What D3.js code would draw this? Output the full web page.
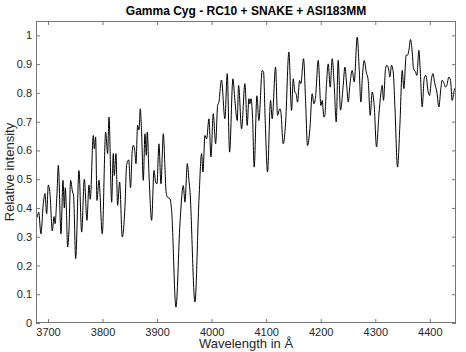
<!DOCTYPE html>
<html>
<head>
<meta charset="utf-8">
<script src="https://cdn.jsdelivr.net/npm/d3@7"></script>
<style>
  body { margin: 0; background: #fff; }
  svg { display: block; font-family: "Liberation Sans", Arial, sans-serif; }
</style>
</head>
<body>
<svg id="chart"></svg>
<script>
// wavelength (Angstrom) and relative intensity
var wavelength = [3678, 3680.4, 3683, 3687, 3691.4, 3694.5, 3697.5, 3700.6, 3703.6, 3707.9,
  3711, 3712.8, 3716.5, 3718.9, 3723.8, 3727.5, 3729.9, 3731.7, 3733.6, 3736,
  3738.4, 3741.5, 3744.6, 3747, 3750.7, 3756.8, 3761.7, 3766.6, 3771.4, 3775.1,
  3777.5, 3783, 3784.9, 3787.3, 3789.8, 3793.4, 3799.5, 3805.7, 3809.3, 3811.8,
  3816.7, 3819.7, 3821.5, 3824.6, 3827.6, 3831.3, 3836.2, 3841, 3844.2, 3848,
  3851.3, 3854.5, 3856.4, 3859, 3861.3, 3864.3, 3866.8, 3869.2, 3871.7, 3874.7,
  3877.8, 3880.2, 3882, 3885.1, 3890, 3894.3, 3897.3, 3899.8, 3903.4, 3907.1,
  3911.4, 3914.4, 3916.3, 3918.7, 3923.6, 3926.6, 3934.6, 3941.9, 3948, 3951.1,
  3955.4, 3958.4, 3960.2, 3969.4, 3976.7, 3981.6, 3984.1, 3987.7, 3990.8, 3995.1,
  3998.7, 4003, 4007.3, 4011, 4013.4, 4015.5, 4018, 4024.3, 4028.6, 4032.9,
  4039, 4042.6, 4047, 4049.4, 4054.9, 4061, 4065.2, 4068.3, 4070.1, 4072,
  4075, 4078, 4083, 4086.6, 4092.7, 4095.2, 4098.2, 4102.5, 4108, 4111,
  4117.2, 4120.8, 4125.1, 4127, 4131.2, 4135.5, 4141.6, 4146.5, 4149.6, 4152.6,
  4155, 4157.5, 4161.2, 4163.6, 4168.5, 4172.2, 4175.8, 4180.1, 4184.4, 4187.4,
  4190.5, 4195.4, 4200.3, 4202.7, 4205.8, 4207.6, 4210.7, 4213.7, 4217.4, 4221,
  4224.7, 4228.4, 4232, 4236.3, 4241.2, 4244.3, 4247.9, 4250.4, 4253.4, 4257.7,
  4261.4, 4266.9, 4270.5, 4273.6, 4276.6, 4279.7, 4283.4, 4287, 4290.7, 4294.4,
  4298, 4302.3, 4306.6, 4310.2, 4312.7, 4315.1, 4318.8, 4321.2, 4324.9, 4326.7,
  4329.8, 4332.9, 4335.9, 4340.8, 4345.1, 4349.4, 4352.4, 4356.7, 4359.1, 4361.6,
  4364.6, 4367.7, 4370.1, 4373.8, 4376.2, 4379.9, 4382.3, 4386, 4389.7, 4392.7,
  4397, 4399.5, 4403.1, 4405.6, 4409.2, 4412.9, 4416.6, 4420.2, 4422.7, 4426.3,
  4428.8, 4431.2, 4434.9, 4437.9, 4441, 4444.7, 4447.7];

var intensity = [0.36, 0.37, 0.385, 0.31, 0.415, 0.45, 0.38, 0.48, 0.45, 0.32,
  0.37, 0.345, 0.45, 0.548, 0.31, 0.496, 0.40, 0.47, 0.40, 0.264,
  0.32, 0.496, 0.46, 0.44, 0.224, 0.53, 0.316, 0.50, 0.357, 0.48,
  0.43, 0.652, 0.606, 0.647, 0.426, 0.496, 0.31, 0.664, 0.589, 0.716,
  0.42, 0.589, 0.513, 0.589, 0.409, 0.49, 0.299, 0.40, 0.55, 0.567,
  0.47, 0.60, 0.618, 0.60, 0.554, 0.687, 0.672, 0.745, 0.658, 0.496,
  0.658, 0.583, 0.664, 0.519, 0.357, 0.53, 0.49, 0.484, 0.623, 0.484,
  0.658, 0.542, 0.461, 0.438, 0.432, 0.391, 0.055, 0.345, 0.478, 0.42,
  0.554, 0.496, 0.461, 0.073, 0.426, 0.589, 0.525, 0.652, 0.64, 0.71,
  0.577, 0.728, 0.623, 0.757, 0.768, 0.81, 0.845, 0.71, 0.867, 0.594,
  0.849, 0.774, 0.704, 0.826, 0.675, 0.832, 0.687, 0.78, 0.762, 0.78,
  0.716, 0.542, 0.79, 0.704, 0.878, 0.872, 0.704, 0.525, 0.774, 0.71,
  0.89, 0.722, 0.745, 0.733, 0.623, 0.693, 0.942, 0.739, 0.849, 0.803,
  0.797, 0.768, 0.843, 0.832, 0.919, 0.774, 0.617, 0.675, 0.797, 0.762,
  0.786, 0.913, 0.756, 0.774, 0.716, 0.722, 0.835, 0.901, 0.82, 0.919,
  0.826, 0.699, 0.913, 0.74, 0.826, 0.89, 0.82, 0.768, 0.826, 0.878,
  0.838, 0.994, 0.884, 0.768, 0.861, 0.913, 0.873, 0.844, 0.722, 0.803,
  0.757, 0.612, 0.722, 0.797, 0.826, 0.774, 0.884, 0.896, 0.878, 0.855,
  0.896, 0.873, 0.757, 0.542, 0.687, 0.878, 0.815, 0.931, 0.931, 0.948,
  0.986, 0.942, 0.884, 0.873, 0.861, 0.948, 0.884, 0.751, 0.85, 0.861,
  0.803, 0.791, 0.85, 0.867, 0.832, 0.803, 0.751, 0.815, 0.844, 0.832,
  0.82, 0.826, 0.855, 0.844, 0.774, 0.809, 0.82];

var xTicks = [3700, 3800, 3900, 4000, 4100, 4200, 4300, 4400];
var yTicks = [0, 0.1, 0.2, 0.3, 0.4, 0.5, 0.6, 0.7, 0.8, 0.9, 1];
var yTickLabels = ["0", "0.1", "0.2", "0.3", "0.4", "0.5", "0.6", "0.7", "0.8", "0.9", "1"];

var title = "Gamma Cyg - RC10 + SNAKE + ASI183MM";
var xLabel = "Wavelength in \u00C5";
var yLabel = "Relative intensity";

function drawSpectrum() {
    var width = 466, height = 352;
    var mLeft = 36, mRight = 456, mTop = 21, mBottom = 323;

    var svg = d3.select("#chart")
        .attr("width", width)
        .attr("height", height);

    var x = d3.scaleLinear().domain([3678, 4448]).range([mLeft, mRight]);
    var y = d3.scaleLinear().domain([0, 1.05]).range([mBottom, mTop]);

    var data = wavelength.map(function(w, i) { return [w, intensity[i]]; });

    svg.append("defs").append("clipPath")
        .attr("id", "clip")
      .append("rect")
        .attr("x", mLeft).attr("y", mTop)
        .attr("width", mRight - mLeft).attr("height", mBottom - mTop);

    // spectrum
    svg.append("path")
        .datum(data)
        .attr("clip-path", "url(#clip)")
        .attr("fill", "none")
        .attr("stroke", "#000")
        .attr("stroke-width", 1)
        .attr("stroke-linejoin", "round")
        .attr("d", d3.line()
            .x(function(d) { return x(d[0]); })
            .y(function(d) { return y(d[1]); })
            .curve(d3.curveMonotoneX));

    // axes, ticks pointing inwards like matlab
    var gx = svg.append("g")
        .attr("transform", "translate(0," + mBottom + ")")
        .call(d3.axisBottom(x).tickValues(xTicks).tickSize(-4).tickPadding(5).tickFormat(d3.format("d")));
    var gxTop = svg.append("g")
        .attr("transform", "translate(0," + mTop + ")")
        .call(d3.axisTop(x).tickValues(xTicks).tickSize(-4).tickFormat(""));
    var gy = svg.append("g")
        .attr("transform", "translate(" + mLeft + ",0)")
        .call(d3.axisLeft(y).tickValues(yTicks).tickSize(-4).tickPadding(4)
            .tickFormat(function(d, i) { return yTickLabels[i]; }));
    var gyRight = svg.append("g")
        .attr("transform", "translate(" + mRight + ",0)")
        .call(d3.axisRight(y).tickValues(yTicks).tickSize(-4).tickFormat(""));

    [gx, gxTop, gy, gyRight].forEach(function(g) {
        g.select(".domain").remove();
        g.selectAll(".tick line").attr("stroke", "#777");
        g.selectAll("text")
            .attr("fill", "#262626")
            .attr("font-family", "Liberation Sans, Arial, sans-serif")
            .attr("font-size", 11);
    });

    // box
    svg.append("rect")
        .attr("x", mLeft + 0.5).attr("y", mTop + 0.5)
        .attr("width", mRight - mLeft - 1).attr("height", mBottom - mTop - 1)
        .attr("fill", "none")
        .attr("stroke", "#777")
        .attr("stroke-width", 1);

    svg.append("text")
        .attr("x", (mLeft + mRight) / 2)
        .attr("y", 15)
        .attr("text-anchor", "middle")
        .attr("font-size", 12)
        .attr("font-weight", "bold")
        .attr("fill", "#000")
        .text(title);

    svg.append("text")
        .attr("x", (mLeft + mRight) / 2)
        .attr("y", 348)
        .attr("text-anchor", "middle")
        .attr("font-size", 13)
        .attr("fill", "#262626")
        .text(xLabel);

    svg.append("text")
        .attr("transform", "translate(14," + (mTop + mBottom) / 2 + ")rotate(-90)")
        .attr("text-anchor", "middle")
        .attr("font-size", 13)
        .attr("fill", "#262626")
        .text(yLabel);
}

drawSpectrum();
</script>
</body>
</html>
